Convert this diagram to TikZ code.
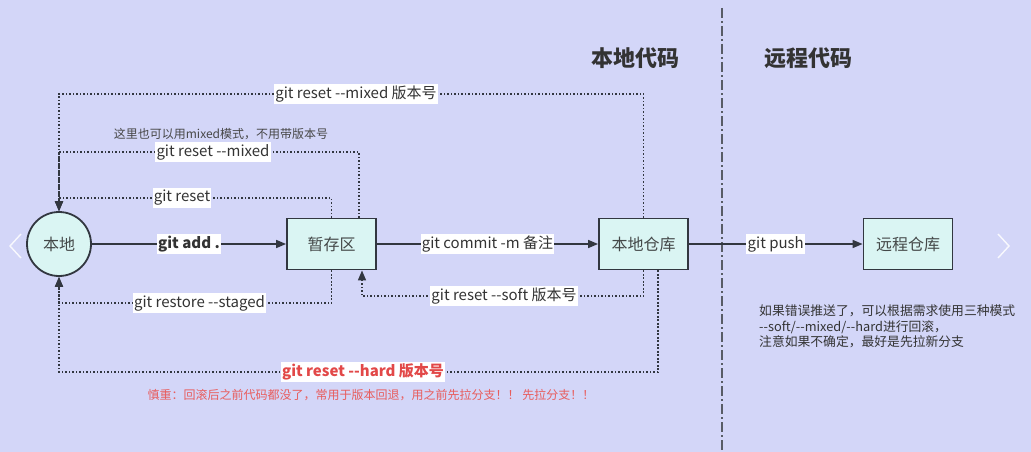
\documentclass[tikz,border=0pt]{standalone}
\usepackage{fontspec}
\newfontfamily\cjk{Noto Sans CJK SC}
\usetikzlibrary{arrows.meta}
\definecolor{bg}{RGB}{211,214,248}
\definecolor{boxfill}{RGB}{218,245,243}
\definecolor{edge}{RGB}{50,55,64}
\definecolor{txt}{RGB}{51,51,51}
\definecolor{boxtxt}{RGB}{68,72,72}
\definecolor{warn}{RGB}{226,72,72}
\definecolor{warnnote}{RGB}{232,92,92}
\definecolor{sep}{RGB}{88,92,102}
\begin{document}
\begin{tikzpicture}[x=1pt,y=-1pt,
  every node/.style={font=\cjk\fontsize{15}{17}\selectfont, text=txt},
  box/.style={draw=edge, line width=1.8pt, fill=boxfill, minimum width=89pt, minimum height=51pt, inner sep=0pt, font=\cjk\fontsize{16}{18}\selectfont, text=boxtxt},
  circ/.style={circle, draw=edge, line width=1.8pt, fill=boxfill, minimum size=64pt, inner sep=0pt, font=\cjk\fontsize{16}{18}\selectfont, text=boxtxt},
  flow/.style={draw=edge, line width=1.5pt, -{Triangle[length=10pt,width=8pt]}},
  back/.style={draw=edge, line width=1.5pt, dash pattern=on 1.6pt off 1.9pt, -{Triangle[length=10pt,width=8pt]}},
  lbl/.style={fill=white, inner xsep=1.2pt, inner ysep=2pt, text=txt},
  title/.style={font=\cjk\bfseries\fontsize{22}{24}\selectfont, text=txt},
  small/.style={font=\cjk\fontsize{12}{14}\selectfont, text=txt},
]
\fill[bg] (0,0) rectangle (1031,452);
\useasboundingbox (0,0) rectangle (1031,452);

% separator
\draw[sep, line width=2pt, dash pattern=on 10pt off 3pt on 2pt off 3pt] (722,8) -- (722,452);

% carousel chevrons
\draw[white, line width=1.4pt, opacity=0.85] (21,234) -- (10,246) -- (21,258);
\draw[white, line width=1.4pt, opacity=0.85] (998,234) -- (1009,246) -- (998,258);

% titles
\node[title] (tLocal) at (635,58) {本地代码};
\node[title] (tRemote) at (808,58) {远程代码};

% main nodes
\node[circ] (local) at (59,244) {本地};
\node[box] (stage) at (331.5,244) {暂存区};
\node[box] (repo) at (643.5,244) {本地仓库};
\node[box] (remote) at (908,244) {远程仓库};

% corner coordinates
\coordinate (cMixV) at (59,94);
\coordinate (cMix) at (59,152);
\coordinate (cReset) at (59,198);
\coordinate (cRestore) at (59,303);
\coordinate (cHard) at (59,372);
\coordinate (cSoft) at (362,296);

% back connectors
\draw[back] (repo.north) |- (cMixV) -- (local.north);
\draw[back] ([xshift=27.5pt]stage.north) |- (cMix) -- (local.north);
\draw[back] (stage.north) |- (cReset) -- (local.north);
\draw[back] (stage.south) |- (cRestore) -- (local.south);
\draw[back] ([xshift=14.5pt]repo.south) |- (cHard) -- (local.south);
\draw[back] (repo.south) |- (cSoft) -- (cSoft |- stage.south);

% forward connectors
\draw[flow] (local) -- node[lbl, font=\cjk\bfseries\fontsize{15}{17}\selectfont] (lAdd) {git add .} (stage);
\draw[flow] (stage) -- node[lbl] (lCommit) {git commit -m 备注} (repo);
\draw[flow] (repo) -- node[lbl] (lPush) {git push} (remote);

% labels of back connectors
\node[lbl] (lMixV) at (356,94) {git reset --mixed 版本号};
\node[small, text=txt!90] (nMix) at (221,134) {这里也可以用mixed模式，不用带版本号};
\node[lbl] (lMix) at (213,152) {git reset --mixed};
\node[lbl] (lReset) at (182,198) {git reset};
\node[lbl] (lRestore) at (199.5,303) {git restore --staged};
\node[lbl] (lSoft) at (504,296) {git reset --soft 版本号};
\node[lbl, text=warn, font=\cjk\bfseries\fontsize{15}{17}\selectfont] (lHard) at (363,372) {git reset --hard 版本号};
\node[small, text=warnnote] (nHard) at (371,395) {慎重：回滚后之前代码都没了，常用于版本回退，用之前先拉分支！！ 先拉分支！！};

% note on the remote side
\node[small, align=left, anchor=north west, inner sep=0pt, font=\cjk\fontsize{12.8}{15.5}\selectfont] (nPush) at (759,305)
  {如果错误推送了，可以根据需求使用三种模式\\--soft/--mixed/--hard进行回滚，\\注意如果不确定，最好是先拉新分支};
\end{tikzpicture}
\end{document}
